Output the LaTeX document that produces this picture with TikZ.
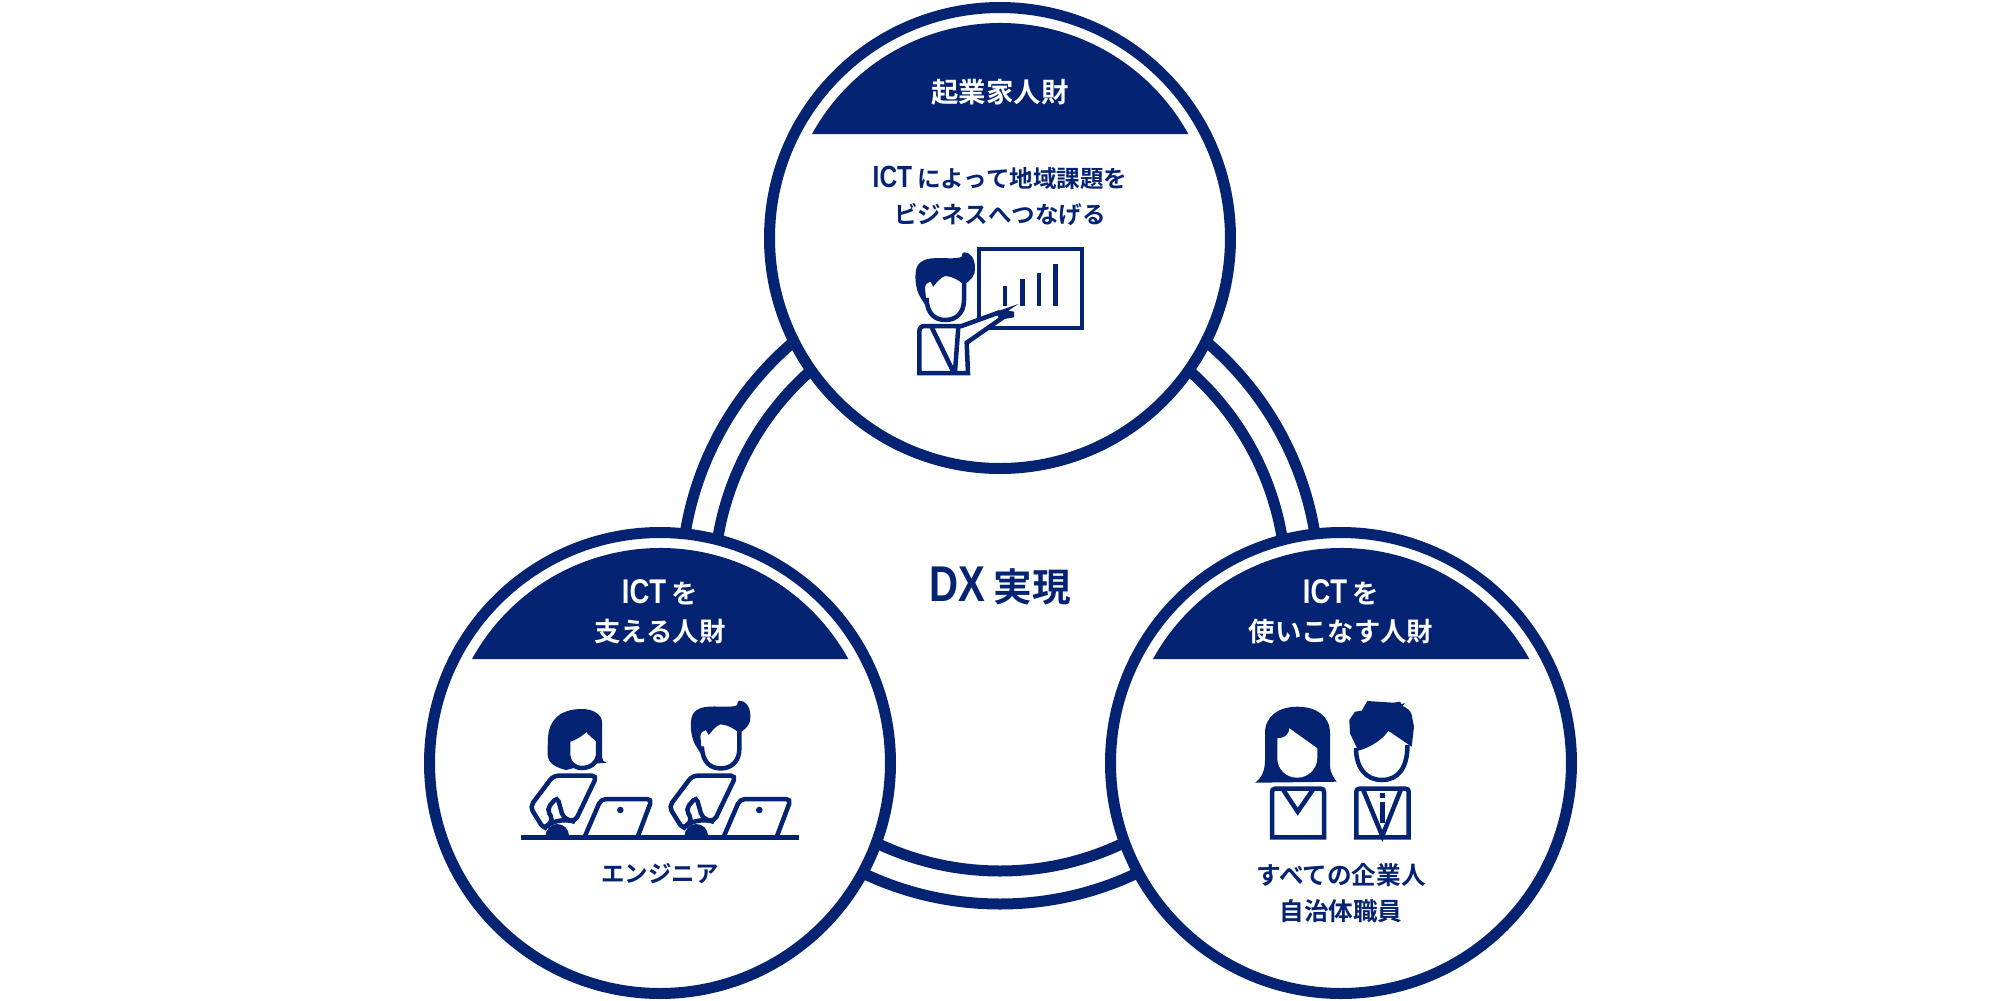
\documentclass[tikz,border=0pt]{standalone}
\usepackage{fontspec}
\setmainfont{Noto Sans CJK JP}[BoldFont={Noto Sans CJK JP Bold}]
\newfontfamily\latinfont[FakeStretch=0.8,Scale=1.3]{Liberation Sans Bold}
\usetikzlibrary{positioning}
\definecolor{dxblue}{HTML}{052373}
\newcommand{\ict}{{\latinfont ICT\,}}
\tikzset{
  manhead/.pic={
    \fill (927.3,308.3) -- (920,296.7) .. controls (916,290) and (914.5,278) .. (916,270) .. controls (917,265) and (920,262) .. (923.3,260.7) .. controls (928,257.5) and (940,258) .. (950,258.3) .. controls (955,258.3) and (960,258) .. (961.7,256.7) .. controls (962,254) and (962.5,252.5) .. (964,252.3) .. controls (970,252) and (975,258) .. (975,268) .. controls (975.5,275) and (972,279) .. (964,285) .. controls (958,279) and (950,276) .. (945,276) .. controls (941,277) and (936,283) .. (933.3,286.7) .. controls (932,284) and (931,282) .. (930,281.7) .. controls (927,282) and (925,285) .. (925,288.3) -- (926.7,305) -- cycle;
    \draw[iconline] (926.5,298) .. controls (927,314) and (935,320) .. (945.5,320) .. controls (956,320) and (964,313) .. (964,300) -- (964,283);
  },
  deskset/.pic={
    \draw[iconline,rounded corners=0.5mm] (544,829.3) -- (530,806.7) -- (553.3,775.7) -- (597,775.7) -- (575,821.7) -- (563.3,818.3) -- (557.3,796.7) -- (546.7,809.3) -- (553.3,820) -- cycle;
    \draw[iconline] (544,829.3) .. controls (548,821) and (566,818) .. (575,822);
    \fill (545.6,835.7) arc[start angle=180,end angle=0,radius=1.17mm];
    \draw[iconline,rounded corners=0.5mm] (585,836) -- (601,799) -- (652,799) -- (638,836);
    \fill (620.3,810) circle [radius=0.33mm];
  }
}

\begin{document}
\begin{tikzpicture}[x=0.1mm,y=-0.1mm,on grid,dxblue]
       \tikzstyle{ring}=[circle,draw,line width=1.1mm,inner sep=0pt,outer sep=0pt]
       \tikzstyle{group}=[ring,fill=white,minimum size=4.61cm]
       \tikzstyle{iconline}=[line width=0.45mm,line join=miter]
       \tikzstyle{banner}=[text=white,font=\bfseries\fontsize{7.5pt}{10.7pt}\selectfont,align=center]
       \tikzstyle{caption}=[text=dxblue,font=\bfseries\fontsize{7pt}{10.2pt}\selectfont,align=center]

       \useasboundingbox (0,0) rectangle (2000,1000);

       \node[ring,minimum size=6.38cm] (r_out) at (1000,585) {};
       \node[ring,minimum size=5.72cm] (r_in) at (1000,585) {};

       \node[group] (c_top) at (1000,238) {};
       \node[group] (c_left) at (660,763) {};
       \node[group] (c_right) at (1341,763) {};

       \foreach \cx/\cy in {1000/238,660/763,1341/763}
         \fill (\cx,\cy) ++(-188,-104) arc[start angle=151.07,end angle=28.93,radius=2.15cm] -- cycle;

       \node[banner,font=\bfseries\fontsize{7.8pt}{10.7pt}\selectfont] (l_top) [above =1.46cm of c_top] {起業家人財};
       \node[banner] (l_left) [above =1.51cm of c_left] {\ict を\\支える人財};
       \node[banner] (l_right) [above =1.51cm of c_right] {\ict を\\使いこなす人財};
       \node[caption,font=\bfseries\fontsize{6.7pt}{10.2pt}\selectfont] (t_top) [below =1.04cm of l_top] {\ict によって地域課題を\\ビジネスへつなげる};
       \node[text=dxblue,font=\bfseries\fontsize{11pt}{13pt}\selectfont] (t_dx) at (1000,586) {{\latinfont DX\,}実現};
       \node[caption,font=\bfseries\fontsize{6.65pt}{10pt}\selectfont] (t_eng) [below =1.11cm of c_left] {エンジニア};
       \node[caption] (t_all) [below =1.3cm of c_right] {すべての企業人\\自治体職員};

       \draw[iconline] (979,249) rectangle (1082,328);
       \foreach \bx/\by in {1005/285.7,1022.3/279,1039/272.7,1055.7/264.3}
         \draw[iconline] (\bx,\by) -- (\bx,306);
       \draw[iconline,fill=white] (919.3,373) -- (919.3,332) .. controls (919.3,328) and (921,326) .. (925,326) -- (961.7,326) -- (998.3,312.7) -- (1001.7,318.3) -- (966.7,342.7) -- (968,373) -- cycle;
       \draw[iconline] (931.7,327.3) -- (953.3,371.7) (958.3,327.3) -- (955,371.7);
       \fill (998.3,311) -- (1018.3,304) -- (1008.3,310.7) -- (1014,311.7) -- (1014,317.3) -- (1001.7,319.5) -- cycle;
       \pic at (0,0) {manhead};

       \fill (566,770) .. controls (550,766) and (547.5,760) .. (547.5,752) -- (548,737) .. controls (549,722) and (558,709) .. (582,709) .. controls (595,709) and (602,716) .. (602,722) -- (602,757) .. controls (602,760) and (604,762.5) .. (606.7,762.7) -- (590,764) -- cycle;
       \draw[iconline,fill=white] (568,740) .. controls (576,738) and (582,733) .. (587,729) .. controls (590,734) and (595,737) .. (598,740) -- (598,756) .. controls (597,763) and (590,768) .. (582,768) .. controls (574,768) and (568,763) .. (568,752) -- cycle;
       \pic at (-224.6,448.4) {manhead};
       \pic at (0,0) {deskset};
       \pic at (139,0) {deskset};
       \draw[line width=0.52mm] (521,837.5) -- (799.3,837.5);

       \fill (1255,782.7) .. controls (1262,778) and (1265,770) .. (1265,760) -- (1265,733) .. controls (1265,716) and (1279,706.7) .. (1297.3,706.7) .. controls (1316,706.7) and (1330,716) .. (1330,733) -- (1330,765) .. controls (1330,772) and (1333,777) .. (1336.7,781.7) -- cycle;
       \fill[white] (1277.3,738.3) .. controls (1283,738.3) and (1289,736) .. (1289.3,728.3) -- (1317.3,748.3) -- (1317.3,758) .. controls (1317,770) and (1307,777.7) .. (1297.3,777.7) .. controls (1287,777.7) and (1277.3,770) .. (1277.3,758) -- cycle;
       \draw[iconline] (1272,837.3) -- (1272,792) .. controls (1272,790) and (1273,788.7) .. (1275,788.7) -- (1321,788.7) .. controls (1323,788.7) and (1324,790) .. (1324,792) -- (1324,837.3) -- cycle;
       \draw[iconline] (1283.3,790) -- (1297.7,811.7) -- (1312.7,790);

       \fill (1358.3,750.7) -- (1350,733.3) -- (1349.3,720) -- (1355,711.7) -- (1361.7,710.7) -- (1367.3,701) -- (1393.3,702.7) -- (1400,701.7) -- (1401.7,704.3) -- (1405,702.7) -- (1402.7,706) .. controls (1408,708) and (1411,712) .. (1411.7,715) -- (1414,726.7) -- (1411.7,746.7) -- (1388.3,730.7) .. controls (1384,738) and (1372,747) .. (1358.3,750.7) -- cycle;
       \draw[iconline] (1356,748) .. controls (1356,768) and (1366,780) .. (1382,780) .. controls (1398,780) and (1407.5,768) .. (1407.5,745);
       \draw[iconline] (1356.3,837.3) -- (1356.3,792) .. controls (1356.3,790) and (1357.3,788.7) .. (1359.3,788.7) -- (1405.7,788.7) .. controls (1407.7,788.7) and (1408.7,790) .. (1408.7,792) -- (1408.7,837.3) -- cycle;
       \draw[iconline] (1363.3,790) -- (1382.3,836) -- (1400.7,790);
       \draw[line width=0.5mm] (1382.3,792.7) -- (1382.3,798.3) (1382.3,801.7) -- (1382.3,823);
\end{tikzpicture}
\end{document}
